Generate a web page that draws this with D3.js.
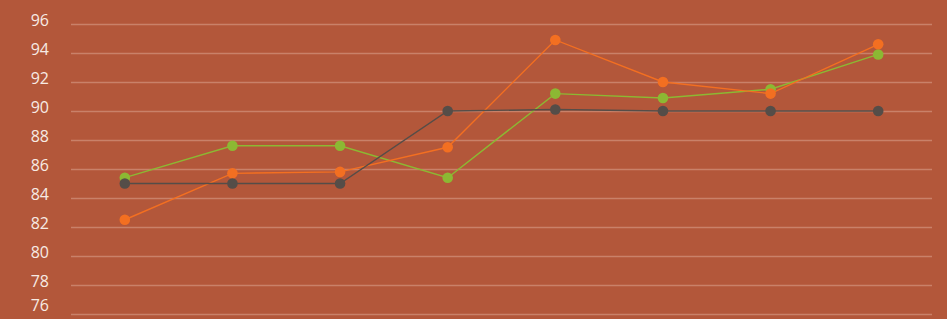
<!DOCTYPE html>
<html>
<head>
<meta charset="utf-8">
<script src="https://cdn.jsdelivr.net/npm/d3@7"></script>
<style>
  html, body { margin: 0; padding: 0; background: #b3573a; }
  svg { display: block; }
</style>
</head>
<body>
<svg id="chart" width="947" height="319"></svg>
<script>
// chart data
var categories = ["1", "2", "3", "4", "5", "6", "7", "8"];
var greenValues = [85.4, 87.6, 87.6, 85.4, 91.2, 90.9, 91.5, 93.9];
var orangeValues = [82.5, 85.7, 85.8, 87.5, 94.9, 92.0, 91.2, 94.6];
var grayValues = [85.0, 85.0, 85.0, 90.0, 90.1, 90.0, 90.0, 90.0];
var yTicks = [76, 78, 80, 82, 84, 86, 88, 90, 92, 94, 96];

var series = [
  { name: "green", values: greenValues, color: "#8cb833" },
  { name: "orange", values: orangeValues, color: "#f36f21" },
  { name: "gray", values: grayValues, color: "#554d48" }
];

var svg = d3.select("#chart"),
    plotLeft = 71, plotRight = 932, plotTop = 24, plotBottom = 314;

var x = d3.scalePoint()
    .domain(categories)
    .range([plotLeft, plotRight])
    .padding(0.5);

var y = d3.scaleLinear()
    .domain([76, 96])
    .range([plotBottom, plotTop]);

// gridlines
svg.append("g")
  .selectAll("line")
  .data(yTicks)
  .enter()
  .append("line")
  .attr("x1", plotLeft)
  .attr("x2", plotRight)
  .attr("y1", function(d) { return Math.round(y(d)) + 0.5; })
  .attr("y2", function(d) { return Math.round(y(d)) + 0.5; })
  .attr("stroke", "#c98169")
  .attr("stroke-width", 1.5);

// y axis labels (bottom one nudged up so it stays inside the frame)
svg.append("g")
  .selectAll("text")
  .data(yTicks)
  .enter()
  .append("text")
  .attr("x", 49)
  .attr("y", function(d) { return Math.min(y(d) - 4, 305); })
  .attr("dy", "0.36em")
  .attr("text-anchor", "end")
  .attr("font-family", "'Open Sans', Lato, sans-serif")
  .attr("font-size", "16px")
  .attr("fill", "#f7ebe4")
  .text(function(d) { return d; });

var line = d3.line()
  .x(function(d, i) { return x(categories[i]); })
  .y(function(d) { return y(d); });

series.forEach(function(s) {
  svg.append("path")
    .datum(s.values)
    .attr("fill", "none")
    .attr("stroke", s.color)
    .attr("stroke-width", 1.4)
    .attr("d", line);
});

series.forEach(function(s) {
  svg.append("g")
    .selectAll("circle")
    .data(s.values)
    .enter()
    .append("circle")
    .attr("cx", function(d, i) { return x(categories[i]); })
    .attr("cy", function(d) { return y(d); })
    .attr("r", 5.3)
    .attr("fill", s.color);
});
</script>
</body>
</html>
